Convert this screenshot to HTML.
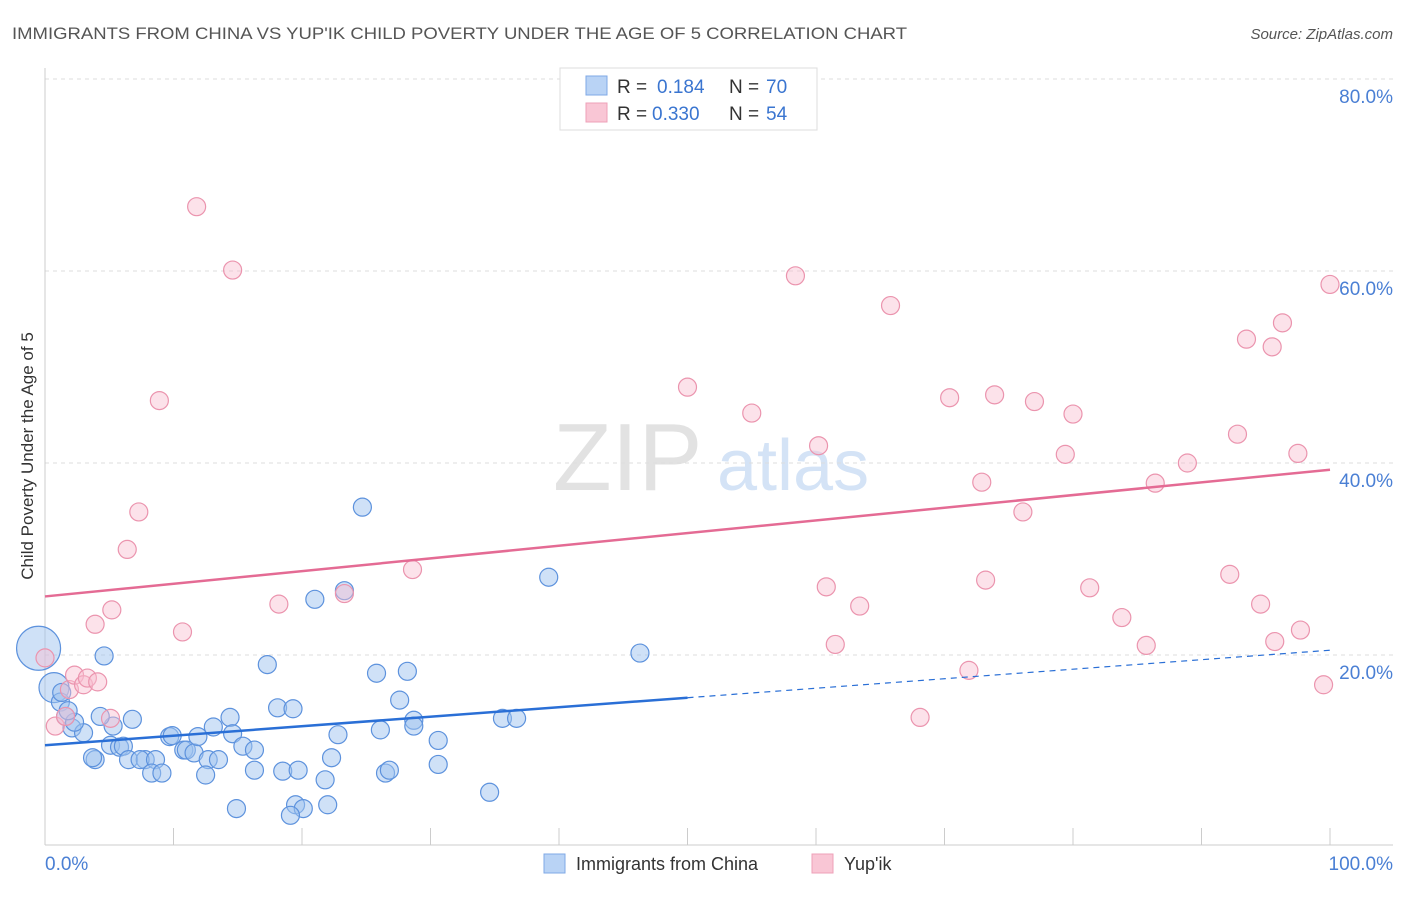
<!DOCTYPE html>
<html><head><meta charset="utf-8"><style>
body{margin:0;background:#fff;font-family:"Liberation Sans",sans-serif;}
svg text{font-family:"Liberation Sans",sans-serif;}
</style></head><body>
<svg id="chart" width="1406" height="892" xmlns="http://www.w3.org/2000/svg">
<text x="12" y="39" font-size="17" fill="#555" textLength="895" lengthAdjust="spacingAndGlyphs">IMMIGRANTS FROM CHINA VS YUP'IK CHILD POVERTY UNDER THE AGE OF 5 CORRELATION CHART</text>
<text x="1393" y="39" font-size="15" fill="#555" font-style="italic" text-anchor="end">Source: ZipAtlas.com</text>
<g>
<text x="553" y="490" font-size="96" font-family="Liberation Serif" fill="#e2e2e2">ZIP</text>
<text x="717" y="490" font-size="72" fill="#d4e3f6">atlas</text>
</g>
<g id="grid"></g>
<g id="axes"></g>
<g id="marks"></g>
<text transform="translate(33,456) rotate(-90)" font-size="17" fill="#333" text-anchor="middle">Child Poverty Under the Age of 5</text>
<g>
<rect x="560" y="68" width="257" height="62" fill="#fff" stroke="#ddd"/>
<rect x="586" y="76" width="21" height="19" fill="#b9d3f5" stroke="#7fa8e6"/>
<rect x="586" y="103" width="21" height="19" fill="#f9c6d5" stroke="#eea0b8"/>
<text x="617" y="93" font-size="19" fill="#333">R = </text><text x="657" y="93" font-size="19" fill="#3a75d0">0.184</text>
<text x="729" y="93" font-size="19" fill="#333">N = </text><text x="766" y="93" font-size="19" fill="#3a75d0">70</text>
<text x="617" y="120" font-size="19" fill="#333">R = </text><text x="652" y="120" font-size="19" fill="#3a75d0">0.330</text>
<text x="729" y="120" font-size="19" fill="#333">N = </text><text x="766" y="120" font-size="19" fill="#3a75d0">54</text>
</g>
<g>
<rect x="544" y="854" width="21" height="19" fill="#b9d3f5" stroke="#7fa8e6"/>
<text x="576" y="870" font-size="18" fill="#333">Immigrants from China</text>
<rect x="812" y="854" width="21" height="19" fill="#f9c6d5" stroke="#eea0b8"/>
<text x="844" y="870" font-size="18" fill="#333">Yup'ik</text>
</g>
</svg>
<script>
const yTicks=[20,40,60,80];
const yTickLabels=["20.0%","40.0%","60.0%","80.0%"];
const xLabels=["0.0%","100.0%"];
const chinaX=[-0.5,0.7,1.2,1.3,2.1,3.0,1.6,2.3,3.9,3.7,4.6,5.3,6.8,5.1,5.8,6.1,6.5,7.8,7.4,8.6,8.3,9.1,9.7,9.9,10.8,11.0,11.6,11.9,12.7,13.5,12.5,13.1,14.4,14.6,15.4,16.3,16.3,17.3,18.1,18.5,19.3,19.5,19.7,20.1,21.0,21.8,22.0,22.3,22.8,23.3,24.7,25.8,26.1,26.5,26.8,27.6,28.2,28.7,28.7,30.6,30.6,34.6,35.6,36.7,39.2,46.3,14.9,19.1,1.8,4.3];
const chinaY=[20.7,16.6,15.1,16.1,12.4,11.9,13.6,13.0,9.1,9.3,19.9,12.6,13.3,10.6,10.4,10.5,9.1,9.1,9.1,9.1,7.7,7.7,11.5,11.6,10.1,10.1,9.8,11.5,9.1,9.1,7.5,12.5,13.5,11.8,10.5,10.1,8.0,19.0,14.5,7.9,14.4,4.4,8.0,4.0,25.8,7.0,4.4,9.3,11.7,26.7,35.4,18.1,12.2,7.7,8.0,15.3,18.3,13.2,12.6,11.1,8.6,5.7,13.4,13.4,28.1,20.2,4.0,3.3,14.2,13.6];
const chinaSize=[22,15];
const yupikX=[11.8,14.6,8.9,7.3,6.4,3.9,5.2,10.7,18.2,23.3,28.6,0,1.9,2.3,3.0,3.3,4.1,0.8,5.1,1.6,50.0,55.0,58.4,60.2,60.8,63.4,61.5,65.8,68.1,70.4,71.9,72.9,73.2,73.9,76.1,77.0,79.4,80.0,81.3,83.8,85.7,86.4,88.9,92.2,92.8,93.5,94.6,95.5,95.7,96.3,97.5,97.7,99.5,100];
const yupikY=[66.7,60.1,46.5,34.9,31.0,23.2,24.7,22.4,25.3,26.4,28.9,19.7,16.4,17.9,16.9,17.6,17.2,12.6,13.4,13.6,47.9,45.2,59.5,41.8,27.1,25.1,21.1,56.4,13.5,46.8,18.4,38.0,27.8,47.1,34.9,46.4,40.9,45.1,27.0,23.9,21.0,37.9,40.0,28.4,43.0,52.9,25.3,52.1,21.4,54.6,41.0,22.6,16.9,58.6];
const chinaTrend=[10.6,20.5];
const yupikTrend=[26.1,39.3];
const chinaSolidEnd=50;

const X0=45,X1=1330,Y0=847,PY=9.6;
const sx=v=>X0+(X1-X0)*v/100;
const sy=v=>Y0-PY*v;
const NS="http://www.w3.org/2000/svg";
function mk(tag,attrs,parent){const e=document.createElementNS(NS,tag);for(const k in attrs)e.setAttribute(k,attrs[k]);parent.appendChild(e);return e;}
const grid=document.getElementById('grid'),axes=document.getElementById('axes'),marks=document.getElementById('marks');
yTicks.forEach((t,i)=>{
 const l=mk('line',{x1:45,x2:1393,y1:sy(t),y2:sy(t),stroke:'#ddd','stroke-dasharray':'4,4'},grid);
 
 
 const tx=mk('text',{x:1393,y:sy(t)+24,'font-size':19,fill:'#4a7fd4','text-anchor':'end'},axes);
 tx.textContent=yTickLabels[i];
 
 
});
const la=mk('line',{x1:45,x2:45,y1:68,y2:845,stroke:'#ccc'},axes);


const ba=mk('line',{x1:45,x2:1393,y1:845,y2:845,stroke:'#ccc'},axes);


for(let k=1;k<=10;k++){
 const t=mk('line',{x1:sx(k*10),x2:sx(k*10),y1:828,y2:845,stroke:'#ccc'},axes);
 
 
}
const xl0=mk('text',{x:45,y:870,'font-size':19,fill:'#4a7fd4'},axes);xl0.textContent=xLabels[0];


const xl1=mk('text',{x:1393,y:870,'font-size':19,fill:'#4a7fd4','text-anchor':'end'},axes);xl1.textContent=xLabels[1];



chinaX.forEach((x,i)=>{
 const c=mk('circle',{cx:sx(x),cy:sy(chinaY[i]),r:chinaSize[i]||9,fill:'rgba(160,195,240,0.5)',stroke:'#5d92dd','stroke-width':1.2},marks);
 
 
});
yupikX.forEach((x,i)=>{
 const c=mk('circle',{cx:sx(x),cy:sy(yupikY[i]),r:9,fill:'rgba(248,190,208,0.45)',stroke:'#eb94ae','stroke-width':1.2},marks);
 
 
});
const cy=v=>chinaTrend[0]+(chinaTrend[1]-chinaTrend[0])*v/100;
const tl1=mk('line',{x1:sx(0),y1:sy(cy(0)),x2:sx(chinaSolidEnd),y2:sy(cy(chinaSolidEnd)),stroke:'#2a6fd6','stroke-width':2.5},marks);


const tl2=mk('line',{x1:sx(chinaSolidEnd),y1:sy(cy(chinaSolidEnd)),x2:sx(100),y2:sy(cy(100)),stroke:'#2a6fd6','stroke-width':1.2,'stroke-dasharray':'6,5'},marks);


const tl3=mk('line',{x1:sx(0),y1:sy(yupikTrend[0]),x2:sx(100),y2:sy(yupikTrend[1]),stroke:'#e46b94','stroke-width':2.5},marks);


</script>
</body></html>
